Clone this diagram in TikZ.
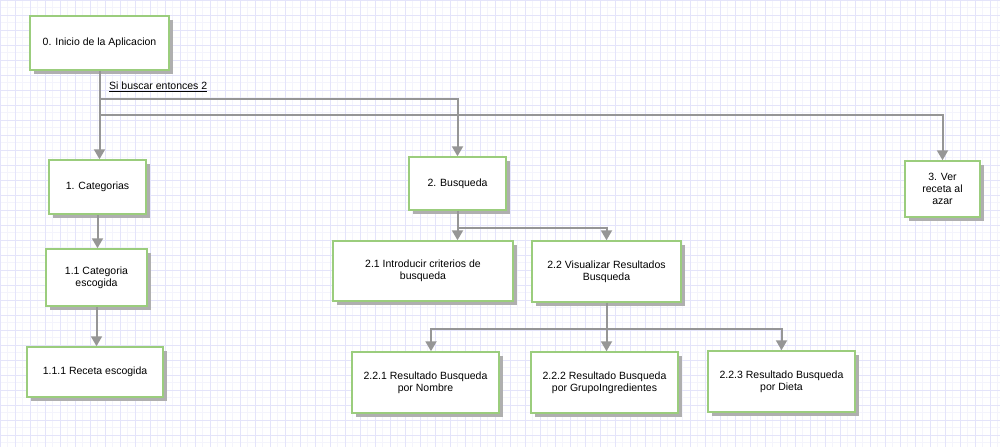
\documentclass[tikz,border=0pt]{standalone}
\usepackage{fontspec}
\setmainfont{Liberation Sans}
\usetikzlibrary{arrows.meta,shadows}
\definecolor{boxgreen}{RGB}{155,205,125}
\definecolor{linegray}{RGB}{150,150,150}
\definecolor{shadowgray}{RGB}{175,175,175}
\definecolor{gridmajor}{RGB}{228,228,250}
\definecolor{gridminor}{RGB}{244,244,252}
\begin{document}
\begin{tikzpicture}[x=1pt,y=-1pt,
  box/.style={draw=boxgreen, line width=1.5pt, fill=white, align=center, inner sep=2pt,
    font=\fontsize{10.5}{12}\selectfont,
    drop shadow={shadow xshift=3.5pt, shadow yshift=-3.5pt, fill=shadowgray, opacity=1}},
  sz/.style 2 args={minimum width=#1pt, minimum height=#2pt},
  conn/.style={draw=linegray, line width=2pt, -{Triangle[width=11pt,length=10pt]}},
  lbl/.style={font=\fontsize{10.5}{12}\selectfont, inner sep=0pt}
]
\useasboundingbox (0,0) rectangle (1000,447);
\fill[white] (0,0) rectangle (1000,447);
% grid
\foreach \i in {7.5,22.5,...,1000} \draw[gridminor, line width=1pt] (\i,0) -- (\i,447);
\foreach \j in {7.5,22.5,...,447} \draw[gridminor, line width=1pt] (0,\j) -- (1000,\j);
\foreach \i in {0,15,...,1000} \draw[gridmajor, line width=1pt] (\i,0) -- (\i,447);
\foreach \j in {0,15,...,447} \draw[gridmajor, line width=1pt] (0,\j) -- (1000,\j);

% nodes
\node[box, sz={139}{54}] (b0) at (99.5,43) {0. Inicio de la Aplicacion};
\node[box, sz={97}{54}] (b1) at (97.5,187) {1. Categorias};
\node[box, sz={101}{57}] (b11) at (96.5,277.5) {1.1 Categoria\\escogida};
\node[box, sz={136}{50}] (b111) at (95,372) {1.1.1 Receta escogida};
\node[box, sz={97}{53}] (b2) at (457.5,183.5) {2. Busqueda};
\node[box, sz={180}{60}] (b21) at (423,271) {2.1 Introducir criterios de\\busqueda};
\node[box, sz={149}{61}] (b22) at (606.5,271.5) {2.2 Visualizar Resultados\\Busqueda};
\node[box, sz={147}{61}] (b221) at (425.5,382.5) {2.2.1 Resultado Busqueda\\por Nombre};
\node[box, sz={147}{61}] (b222) at (604.5,382.5) {2.2.2 Resultado Busqueda\\por GrupoIngredientes};
\node[box, sz={147}{61}] (b223) at (781.5,381.5) {2.2.3 Resultado Busqueda\\por Dieta};
\node[box, sz={75}{56}] (b3) at (942.5,189) {3. Ver\\receta al\\azar};

\node[lbl, anchor=west] (lab) at (109,87) {\underline{Si buscar entonces 2}};

% connectors
\draw[conn] (b0.south) -- (b0.south |- b1.north);
\draw[conn] (b0.south) -- ++(0,28) -| (b2.north);
\draw[conn] (b0.south) -- ++(0,44) -| (b3.north);
\draw[conn] (b1.south) -- (b1.south |- b11.north);
\draw[conn] (b11.south) -- (b11.south |- b111.north);
\draw[conn] (b2.south) -- (b2.south |- b21.north);
\draw[conn] (b2.south) -- ++(0,17) -| (b22.north);
\draw[conn] (b22.south) -- ++(0,26) -| ([xshift=5.5pt]b221.north);
\draw[conn] (b22.south) -- (b22.south |- b222.north);
\draw[conn] (b22.south) -- ++(0,26) -| (b223.north);
\end{tikzpicture}
\end{document}
